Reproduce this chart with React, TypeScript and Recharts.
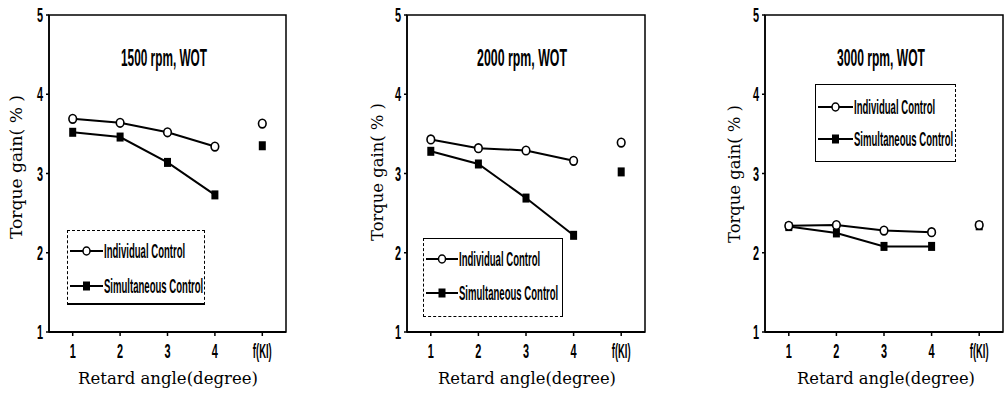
import { LineChart, Line, XAxis, YAxis, ReferenceArea } from 'recharts';

// retard angles (x) plus the f(KI) column drawn at x = 5
const angles = [1, 2, 3, 4];
const fKIPos = 5;
const xTicks = [1, 2, 3, 4, 5];
const xTickLabels = ['1', '2', '3', '4', 'f(KI)'];
const yTicks = [1, 2, 3, 4, 5];

const titles = ['1500 rpm, WOT', '2000 rpm, WOT', '3000 rpm, WOT'];

const individual1500 = [3.69, 3.64, 3.52, 3.34];
const simultaneous1500 = [3.52, 3.46, 3.14, 2.73];
const individual2000 = [3.43, 3.32, 3.29, 3.16];
const simultaneous2000 = [3.28, 3.12, 2.69, 2.22];
const individual3000 = [2.34, 2.35, 2.28, 2.26];
const simultaneous3000 = [2.33, 2.25, 2.08, 2.08];

const individualFKI = [3.63, 3.39, 2.35];
const simultaneousFKI = [3.35, 3.02, 2.34];

const legendNames = ['Individual Control', 'Simultaneous Control'];

const seriesByPanel = [
  [individual1500, simultaneous1500],
  [individual2000, simultaneous2000],
  [individual3000, simultaneous3000],
];

function buildRows(p: number) {
  const [ind, sim] = seriesByPanel[p];
  const rows: any[] = angles.map((x, i) => ({ x, ind: ind[i], sim: sim[i] }));
  rows.push({ x: fKIPos, indK: individualFKI[p], simK: simultaneousFKI[p] });
  return rows;
}

// layout of each panel (pixels); plotLeft / plotRight are inside the 336px chart
const layout = [
  {
    left: 0, plotLeft: 49, plotRight: 50, titleX: 164, titleW: 86, xLabelX: 168, xLabelW: 180,
    yLabelX: 22, yLabelY: 167, yLabelW: 144,
    legend: { x: 67, y: 230, w: 138, h: 75, rows: [250, 285], lineW: 33 },
    border: { top: '1px dashed #000', left: '1px dashed #000', right: '1px dashed #000', bottom: '2px solid #000' },
  },
  {
    left: 336, plotLeft: 71, plotRight: 27, titleX: 522, titleW: 90, xLabelX: 527, xLabelW: 178,
    yLabelX: 383, yLabelY: 172, yLabelW: 138,
    legend: { x: 423, y: 238, w: 140, h: 79, rows: [258, 292], lineW: 32 },
    border: { top: '1.5px solid #000', left: '1px dashed #000', right: '1px solid #000', bottom: '1px dashed #000' },
  },
  {
    left: 672, plotLeft: 93, plotRight: 5, titleX: 881, titleW: 88, xLabelX: 886, xLabelW: 178,
    yLabelX: 740, yLabelY: 174, yLabelW: 138,
    legend: { x: 815, y: 84, w: 141, h: 78, rows: [106, 138], lineW: 35 },
    border: { top: '1.5px solid #000', left: '1.5px solid #000', right: '1px dashed #000', bottom: '1.5px solid #000' },
  },
];

const NARROW = "'Liberation Sans', Arial, sans-serif";
const SERIF = "'DejaVu Serif', serif";

function OpenCircle(props: any) {
  const { cx, cy, index } = props;
  if (cx == null || cy == null || props.value == null) return <g key={index} />;
  return <ellipse key={index} cx={cx} cy={cy} rx={3.8} ry={4.3} fill="#fff" stroke="#000" strokeWidth={1.6} />;
}

function FilledSquare(props: any) {
  const { cx, cy, index } = props;
  if (cx == null || cy == null || props.value == null) return <g key={index} />;
  return <rect key={index} x={cx - 3.5} y={cy - 4.5} width={7} height={9} fill="#000" />;
}

function XTick({ x, y, payload }: any) {
  const label = xTickLabels[xTicks.indexOf(payload.value)];
  return (
    <text transform={`translate(${x},${y}) scale(${label.length > 1 ? 0.45 : 0.52},1)`} textAnchor="middle" dy={22}
      fontFamily={NARROW} fontWeight="bold" fontSize={21} fill="#000">
      {label}
    </text>
  );
}

function YTick({ x, y, payload }: any) {
  return (
    <text transform={`translate(${x},${y}) scale(0.52,1)`} textAnchor="end" dy={7}
      fontFamily={NARROW} fontWeight="bold" fontSize={21} fill="#000">
      {payload.value}
    </text>
  );
}

function Panel({ p }: { p: number }) {
  const L = layout[p];
  return (
    <div style={{ position: 'absolute', left: L.left, top: 0 }}>
      <LineChart width={336} height={394} data={buildRows(p)}
        margin={{ top: 15, right: L.plotRight, bottom: 32, left: L.plotLeft - 30 }}>
        <XAxis type="number" dataKey="x" domain={[0.5, 5.5]} ticks={xTicks} height={30}
          tick={<XTick />} tickSize={4} tickMargin={0}
          axisLine={{ stroke: '#000', strokeWidth: 2 }} tickLine={{ stroke: '#000', strokeWidth: 1.5 }} />
        <YAxis type="number" domain={[1, 5]} ticks={yTicks} width={30}
          tick={<YTick />} tickSize={3} tickMargin={3}
          axisLine={{ stroke: '#000', strokeWidth: 1.5 }} tickLine={{ stroke: '#000', strokeWidth: 1.5 }} />
        <ReferenceArea x1={0.5} x2={5.5} y1={1} y2={5} fill="none" stroke="#000" strokeWidth={1.5} />
        <Line dataKey="sim" stroke="#000" strokeWidth={2} dot={<FilledSquare />} isAnimationActive={false} />
        <Line dataKey="ind" stroke="#000" strokeWidth={2} dot={<OpenCircle />} isAnimationActive={false} />
        <Line dataKey="simK" stroke="none" dot={<FilledSquare />} isAnimationActive={false} />
        <Line dataKey="indK" stroke="none" dot={<OpenCircle />} isAnimationActive={false} />
      </LineChart>
    </div>
  );
}

function LegendBox({ p }: { p: number }) {
  const L = layout[p];
  const g = L.legend;
  return (
    <div style={{
      position: 'absolute', left: g.x, top: g.y, width: g.w, height: g.h, boxSizing: 'border-box',
      background: '#fff', borderTop: L.border.top, borderLeft: L.border.left,
      borderRight: L.border.right, borderBottom: L.border.bottom,
    }}>
      {legendNames.map((name, i) => (
        <div key={name} style={{
          position: 'absolute', left: 2, top: g.rows[i] - g.y - 10, height: 20,
          display: 'flex', alignItems: 'center', whiteSpace: 'nowrap',
        }}>
          <svg width={g.lineW} height={20} style={{ display: 'block' }}>
            <line x1={0} y1={10} x2={g.lineW} y2={10} stroke="#000" strokeWidth={2} />
            {i === 0
              ? <ellipse cx={g.lineW / 2} cy={10} rx={3.5} ry={4} fill="#fff" stroke="#000" strokeWidth={1.5} />
              : <rect x={g.lineW / 2 - 3.5} y={5.5} width={7} height={9} fill="#000" />}
          </svg>
          <span style={{
            display: 'inline-block', fontFamily: NARROW, fontSize: 21, fontWeight: 'bold', lineHeight: '20px',
            transform: 'scaleX(0.455)', transformOrigin: 'left center', marginLeft: 1,
          }}>{name}</span>
        </div>
      ))}
    </div>
  );
}

export default function App() {
  return (
    <div style={{ position: 'absolute', left: 0, top: 0, width: 1008, height: 394, background: '#fff', overflow: 'hidden' }}>
      {[0, 1, 2].map((p) => <Panel key={p} p={p} />)}
      <svg width={1008} height={394} style={{ position: 'absolute', left: 0, top: 0, pointerEvents: 'none' }}>
        {layout.map((L, p) => (
          <g key={p}>
            <text x={L.titleX} y={66} textAnchor="middle" fontFamily={NARROW} fontWeight="bold" fontSize={23}
              textLength={L.titleW} lengthAdjust="spacingAndGlyphs" fill="#000">{titles[p]}</text>
            <text x={L.xLabelX} y={384} textAnchor="middle" fontFamily={SERIF} fontSize={17}
              textLength={L.xLabelW} lengthAdjust="spacingAndGlyphs" fill="#000">Retard angle(degree)</text>
            <text transform={`translate(${L.yLabelX},${L.yLabelY}) rotate(-90)`} textAnchor="middle"
              fontFamily={SERIF} fontSize={17} textLength={L.yLabelW} lengthAdjust="spacingAndGlyphs"
              fill="#000">Torque gain( % )</text>
          </g>
        ))}
      </svg>
      {[0, 1, 2].map((p) => <LegendBox key={p} p={p} />)}
    </div>
  );
}
